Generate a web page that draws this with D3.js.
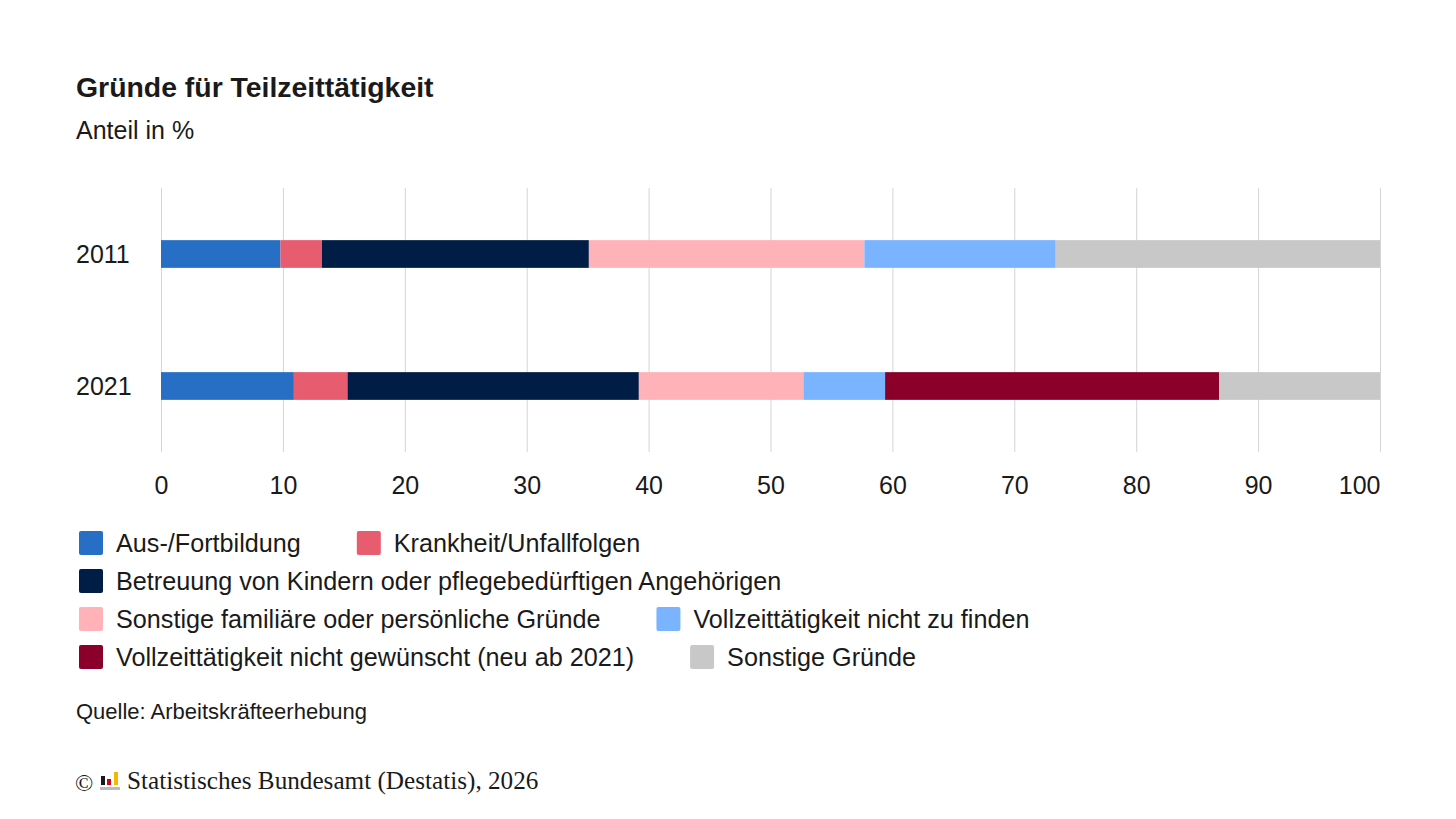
<!DOCTYPE html>
<html>
<head>
<meta charset="utf-8">
<script src="https://cdn.jsdelivr.net/npm/d3@7"></script>
<style>
  html, body { margin: 0; padding: 0; background: #fff; }
  svg { display: block; font-family: "Liberation Sans", Arial, sans-serif; }
</style>
</head>
<body>
<svg id="chart" width="1456" height="819"></svg>
<script>
const years = ["2011", "2021"];
const seriesNames = [
  "Aus-/Fortbildung",
  "Krankheit/Unfallfolgen",
  "Betreuung von Kindern oder pflegebedürftigen Angehörigen",
  "Sonstige familiäre oder persönliche Gründe",
  "Vollzeittätigkeit nicht zu finden",
  "Vollzeittätigkeit nicht gewünscht (neu ab 2021)",
  "Sonstige Gründe"
];
const seriesColors = ["#266fc4", "#e85c70", "#001d45", "#ffb3b8", "#7ab4ff", "#8a002b", "#c8c8c8"];
const values2011 = [9.8, 3.4, 21.9, 22.6, 15.7, 0, 26.6];
const values2021 = [10.9, 4.4, 23.9, 13.5, 6.7, 27.4, 13.2];
const xTicks = [0, 10, 20, 30, 40, 50, 60, 70, 80, 90, 100];

const title = "Gründe für Teilzeittätigkeit";
const subtitle = "Anteil in %";
const source = "Quelle: Arbeitskräfteerhebung";
const footer = "Statistisches Bundesamt (Destatis), 2026";

const svg = d3.select("#chart");

// Titles
svg.append("text").attr("x", 76).attr("y", 97)
  .attr("font-size", 28.4).attr("font-weight", "bold").attr("fill", "#1a1a1a").text(title);
svg.append("text").attr("x", 76).attr("y", 139)
  .attr("font-size", 25).attr("fill", "#1a1a1a").text(subtitle);

// Scales
const x = d3.scaleLinear().domain([0, 100]).range([161, 1380]);
const y = d3.scaleBand().domain(years).range([188, 452]).paddingInner(0.79).paddingOuter(0.395);

// Gridlines
svg.append("g").selectAll("line").data(xTicks).join("line")
  .attr("x1", d => x(d) + 0.5).attr("x2", d => x(d) + 0.5)
  .attr("y1", 188).attr("y2", 452)
  .attr("stroke", "#d4d4d4").attr("stroke-width", 1);

// Stacked data
const rows = years.map((yr, i) => {
  const vals = i === 0 ? values2011 : values2021;
  const o = { year: yr };
  seriesNames.forEach((s, j) => o[s] = vals[j]);
  return o;
});
const stack = d3.stack().keys(seriesNames)(rows);

svg.append("g").selectAll("g").data(stack).join("g")
  .attr("fill", (d, i) => seriesColors[i])
  .selectAll("rect").data(d => d).join("rect")
  .attr("x", d => x(d[0]))
  .attr("width", d => Math.max(0, x(d[1]) - x(d[0])))
  .attr("y", d => y(d.data.year))
  .attr("height", y.bandwidth());

// Year labels
svg.append("g").selectAll("text").data(years).join("text")
  .attr("x", 76).attr("y", d => y(d) + y.bandwidth() / 2)
  .attr("dominant-baseline", "central")
  .attr("font-size", 25).attr("fill", "#1a1a1a").text(d => d);

// X axis
const xAxis = d3.axisBottom(x).tickValues(xTicks).tickSize(0).tickPadding(0);
const gx = svg.append("g").attr("transform", "translate(0,475)").call(xAxis);
gx.select(".domain").remove();
gx.selectAll("text").attr("font-size", 25).attr("fill", "#1a1a1a")
  .attr("font-family", "'Liberation Sans', Arial, sans-serif").attr("dy", "0.75em")
  .attr("text-anchor", d => d === 100 ? "end" : "middle")
  .attr("x", d => d === 100 ? 0 : 0);

// Legend (flow layout)
const legend = svg.append("g");
const legendLeft = 79, legendRight = 1300, rowH = 38, gap = 56;
let lx = legendLeft, ly = 543;
seriesNames.forEach((name, i) => {
  const g = legend.append("g");
  const t = g.append("text").attr("x", 37).attr("y", 0).attr("dominant-baseline", "central")
    .attr("font-size", 25.2).attr("fill", "#1a1a1a").text(name);
  const w = 37 + t.node().getComputedTextLength();
  if (lx > legendLeft && lx + w > legendRight) { lx = legendLeft; ly += rowH; }
  g.append("rect").attr("x", 0).attr("y", -12).attr("width", 24).attr("height", 24)
    .attr("rx", 2).attr("fill", seriesColors[i]);
  g.attr("transform", `translate(${lx},${ly})`);
  lx += w + gap;
});

// Source
svg.append("text").attr("x", 76).attr("y", 719)
  .attr("font-size", 22).attr("fill", "#1a1a1a").text(source);

// Footer
const f = svg.append("g").attr("font-family", "'Liberation Serif', 'Times New Roman', serif");
f.append("text").attr("x", 75).attr("y", 791).attr("font-size", 24).attr("fill", "#1a1a1a").text("©");
const logo = [
  { c: "#1a1a1a", h: 9, dx: 0 },
  { c: "#d0021b", h: 6, dx: 6 },
  { c: "#f5b800", h: 13, dx: 13 }
];
f.selectAll("rect.logo").data(logo).join("rect")
  .attr("x", d => 101 + d.dx).attr("y", d => 785 - d.h).attr("width", 4).attr("height", d => d.h)
  .attr("fill", d => d.c);
f.append("rect").attr("x", 100).attr("y", 787).attr("width", 20).attr("height", 3).attr("fill", "#bbb");
f.append("text").attr("x", 127).attr("y", 789).attr("font-size", 25.2).attr("fill", "#1a1a1a").text(footer);
</script>
</body>
</html>
